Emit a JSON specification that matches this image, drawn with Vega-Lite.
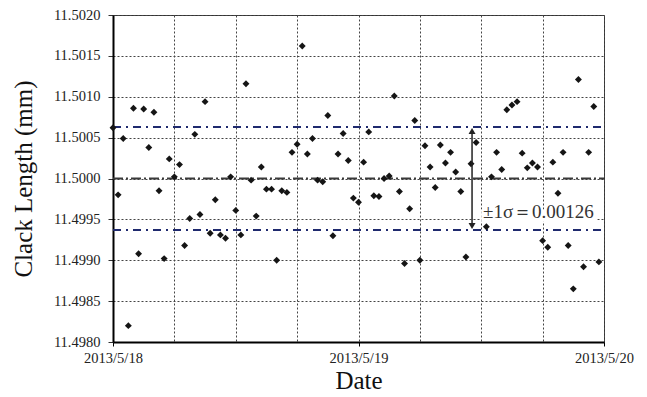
{
  "$schema": "https://vega.github.io/schema/vega-lite/v6.json",
  "width": 491,
  "height": 327,
  "autosize": {"type": "none"},
  "padding": {"left": 113, "top": 15, "right": 43, "bottom": 55},
  "background": "white",
  "config": {
    "font": "Liberation Serif",
    "view": {"stroke": "#333", "strokeWidth": 1},
    "axis": {"titleFont": "Liberation Serif", "labelFont": "Liberation Serif"}
  },
  "datasets": {
    "pts": [
      {"t":"2013-05-18T00:00","v":11.50062},{"t":"2013-05-18T00:30","v":11.49980},{"t":"2013-05-18T01:00","v":11.50049},{"t":"2013-05-18T01:30","v":11.49820},
      {"t":"2013-05-18T02:00","v":11.50086},{"t":"2013-05-18T02:30","v":11.49908},{"t":"2013-05-18T03:00","v":11.50085},{"t":"2013-05-18T03:30","v":11.50038},
      {"t":"2013-05-18T04:00","v":11.50081},{"t":"2013-05-18T04:30","v":11.49985},{"t":"2013-05-18T05:00","v":11.49902},{"t":"2013-05-18T05:30","v":11.50024},
      {"t":"2013-05-18T06:00","v":11.50002},{"t":"2013-05-18T06:30","v":11.50017},{"t":"2013-05-18T07:00","v":11.49918},{"t":"2013-05-18T07:30","v":11.49951},
      {"t":"2013-05-18T08:00","v":11.50054},{"t":"2013-05-18T08:30","v":11.49956},{"t":"2013-05-18T09:00","v":11.50094},{"t":"2013-05-18T09:30","v":11.49933},
      {"t":"2013-05-18T10:00","v":11.49974},{"t":"2013-05-18T10:30","v":11.49931},{"t":"2013-05-18T11:00","v":11.49927},{"t":"2013-05-18T11:30","v":11.50002},
      {"t":"2013-05-18T12:00","v":11.49961},{"t":"2013-05-18T12:30","v":11.49931},{"t":"2013-05-18T13:00","v":11.50116},{"t":"2013-05-18T13:30","v":11.49998},
      {"t":"2013-05-18T14:00","v":11.49954},{"t":"2013-05-18T14:30","v":11.50014},{"t":"2013-05-18T15:00","v":11.49987},{"t":"2013-05-18T15:30","v":11.49987},
      {"t":"2013-05-18T16:00","v":11.49900},{"t":"2013-05-18T16:30","v":11.49985},{"t":"2013-05-18T17:00","v":11.49983},{"t":"2013-05-18T17:30","v":11.50032},
      {"t":"2013-05-18T18:00","v":11.50042},{"t":"2013-05-18T18:30","v":11.50162},{"t":"2013-05-18T19:00","v":11.50030},{"t":"2013-05-18T19:30","v":11.50049},
      {"t":"2013-05-18T20:00","v":11.49998},{"t":"2013-05-18T20:30","v":11.49996},{"t":"2013-05-18T21:00","v":11.50077},{"t":"2013-05-18T21:30","v":11.49930},
      {"t":"2013-05-18T22:00","v":11.50030},{"t":"2013-05-18T22:30","v":11.50055},{"t":"2013-05-18T23:00","v":11.50022},{"t":"2013-05-18T23:30","v":11.49976},
      {"t":"2013-05-19T00:00","v":11.49971},{"t":"2013-05-19T00:30","v":11.50020},{"t":"2013-05-19T01:00","v":11.50057},{"t":"2013-05-19T01:30","v":11.49979},
      {"t":"2013-05-19T02:00","v":11.49978},{"t":"2013-05-19T02:30","v":11.50000},{"t":"2013-05-19T03:00","v":11.50003},{"t":"2013-05-19T03:30","v":11.50101},
      {"t":"2013-05-19T04:00","v":11.49984},{"t":"2013-05-19T04:30","v":11.49896},{"t":"2013-05-19T05:00","v":11.49963},{"t":"2013-05-19T05:30","v":11.50071},
      {"t":"2013-05-19T06:00","v":11.49900},{"t":"2013-05-19T06:30","v":11.50040},{"t":"2013-05-19T07:00","v":11.50014},{"t":"2013-05-19T07:30","v":11.49989},
      {"t":"2013-05-19T08:00","v":11.50041},{"t":"2013-05-19T08:30","v":11.50019},{"t":"2013-05-19T09:00","v":11.50032},{"t":"2013-05-19T09:30","v":11.50008},
      {"t":"2013-05-19T10:00","v":11.49984},{"t":"2013-05-19T10:30","v":11.49904},{"t":"2013-05-19T11:00","v":11.50018},{"t":"2013-05-19T11:30","v":11.50044},
      {"t":"2013-05-19T12:30","v":11.49941},{"t":"2013-05-19T13:00","v":11.50002},{"t":"2013-05-19T13:30","v":11.50032},
      {"t":"2013-05-19T14:00","v":11.50011},{"t":"2013-05-19T14:30","v":11.50084},{"t":"2013-05-19T15:00","v":11.50090},{"t":"2013-05-19T15:30","v":11.50094},
      {"t":"2013-05-19T16:00","v":11.50031},{"t":"2013-05-19T16:30","v":11.50013},{"t":"2013-05-19T17:00","v":11.50019},{"t":"2013-05-19T17:30","v":11.50014},
      {"t":"2013-05-19T18:00","v":11.49924},{"t":"2013-05-19T18:30","v":11.49916},{"t":"2013-05-19T19:00","v":11.50020},{"t":"2013-05-19T19:30","v":11.49982},
      {"t":"2013-05-19T20:00","v":11.50032},{"t":"2013-05-19T20:30","v":11.49918},{"t":"2013-05-19T21:00","v":11.49865},{"t":"2013-05-19T21:30","v":11.50121},
      {"t":"2013-05-19T22:00","v":11.49892},{"t":"2013-05-19T22:30","v":11.50032},{"t":"2013-05-19T23:00","v":11.50088},{"t":"2013-05-19T23:30","v":11.49898}
    ],
    "heads": [
      {"t":"2013-05-19T11:06","v":11.50058,"shape":"triangle-up"},
      {"t":"2013-05-19T11:06","v":11.49942,"shape":"triangle-down"}
    ]
  },
  "encoding": {
    "x": {
      "field": "t", "type": "temporal",
      "scale": {"domain": [{"year":2013,"month":5,"date":18},{"year":2013,"month":5,"date":20}], "nice": false},
      "axis": {
        "title": "Date",
        "values": [
          {"year":2013,"month":5,"date":18,"hours":0},{"year":2013,"month":5,"date":18,"hours":6},
          {"year":2013,"month":5,"date":18,"hours":12},{"year":2013,"month":5,"date":18,"hours":18},
          {"year":2013,"month":5,"date":19,"hours":0},{"year":2013,"month":5,"date":19,"hours":6},
          {"year":2013,"month":5,"date":19,"hours":12},{"year":2013,"month":5,"date":19,"hours":18},
          {"year":2013,"month":5,"date":20,"hours":0}
        ],
        "labelExpr": "hours(datum.value) == 0 ? timeFormat(datum.value, '%Y/%-m/%-d') : ''",
        "labelFlush": false,
        "labelOverlap": false,
        "labelFont": "Liberation Serif",
        "labelFontSize": 14.5,
        "labelColor": "#222",
        "labelPadding": 5,
        "tickSize": 4,
        "tickColor": "#000",
        "tickOpacity": {"condition": {"test": "hours(datum.value) == 0", "value": 1}, "value": 0},
        "domainColor": "#000",
        "domainWidth": 2,
        "grid": true,
        "gridColor": "#444",
        "gridDash": [2, 2],
        "gridWidth": 1,
        "titleFont": "Liberation Serif",
        "titleFontSize": 25,
        "titleFontWeight": "normal",
        "titleColor": "#111",
        "titlePadding": 4
      }
    },
    "y": {
      "field": "v", "type": "quantitative",
      "scale": {"domain": [11.498, 11.502], "nice": false, "zero": false},
      "axis": {
        "title": "Clack Length (mm)",
        "values": [11.498, 11.4985, 11.499, 11.4995, 11.5, 11.5005, 11.501, 11.5015, 11.502],
        "format": ".4f",
        "labelFont": "Liberation Serif",
        "labelFontSize": 14.5,
        "labelColor": "#222",
        "labelPadding": 8,
        "tickSize": 5,
        "tickColor": "#333",
        "domainColor": "#000",
        "domainWidth": 2,
        "grid": true,
        "gridColor": "#444",
        "gridDash": [2, 2],
        "gridWidth": 1,
        "titleFont": "Liberation Serif",
        "titleFontSize": 25,
        "titleFontWeight": "normal",
        "titleColor": "#111",
        "titlePadding": 17
      }
    }
  },
  "layer": [
    {
      "data": {"values": [{"t":"2013-05-19T12:00","t2":"2013-05-19T23:20","v":11.49947,"v2":11.49962}]},
      "mark": {"type": "rect", "fill": "white"},
      "encoding": {"x2": {"field": "t2"}, "y2": {"field": "v2"}}
    },
    {
      "data": {"values": [{"t":"2013-05-18T00:00","t2":"2013-05-20T00:00","v":11.5}]},
      "mark": {"type": "rule", "color": "#3a3a3a", "strokeWidth": 1.8, "strokeDash": [10, 3, 2, 3]},
      "encoding": {"x2": {"field": "t2"}}
    },
    {
      "data": {"values": [{"t":"2013-05-18T00:00","t2":"2013-05-20T00:00","v":11.50063},{"t":"2013-05-18T00:00","t2":"2013-05-20T00:00","v":11.49937}]},
      "mark": {"type": "rule", "color": "#1f2a6e", "strokeWidth": 1.8, "strokeDash": [8, 5, 2, 5]},
      "encoding": {"x2": {"field": "t2"}}
    },
    {
      "data": {"name": "pts"},
      "mark": {"type": "point", "shape": "diamond", "filled": true, "size": 48, "color": "#151515", "opacity": 1},
      "encoding": {}
    },
    {
      "data": {"values": [{"t":"2013-05-19T11:06","v":11.50058,"v2":11.49942}]},
      "mark": {"type": "rule", "color": "#222", "strokeWidth": 1.5},
      "encoding": {"y2": {"field": "v2"}}
    },
    {
      "data": {"name": "heads"},
      "mark": {"type": "point", "filled": true, "size": 49, "color": "#222", "opacity": 1},
      "encoding": {"shape": {"field": "shape", "type": "nominal", "scale": null, "legend": null}}
    },
    {
      "data": {"values": [{"t":"2013-05-19T12:10","v":11.49952,"label":"±1σ＝0.00126"}]},
      "mark": {"type": "text", "align": "left", "baseline": "alphabetic", "font": "Liberation Serif", "fontSize": 19, "color": "#333"},
      "encoding": {"text": {"field": "label"}}
    }
  ]
}
